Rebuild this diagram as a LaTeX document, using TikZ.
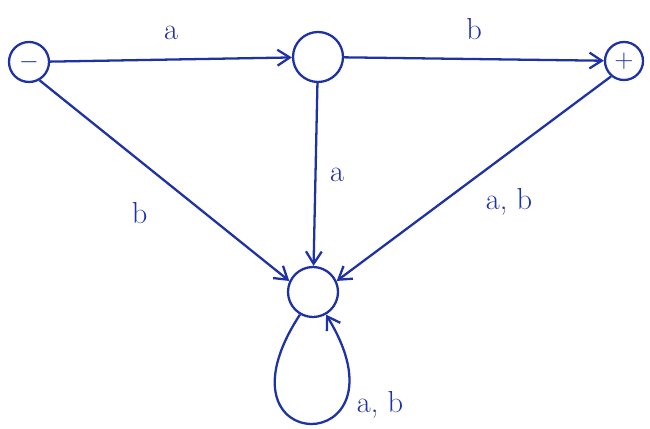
\documentclass[tikz,border=0pt]{standalone}
\usepackage{xcolor}
\usetikzlibrary{arrows.meta,positioning}
\definecolor{penblue}{RGB}{30,50,165}

\begin{document}
\begin{tikzpicture}[
  state/.style={circle, draw=penblue, line width=1.3pt, inner sep=0pt, minimum size=#1,
    font=\Large, text=penblue},
  arr/.style={-{Straight Barb[length=7pt,width=9pt]}, line width=1.3pt, penblue},
  lbl/.style={font=\LARGE, text=penblue}
]
\useasboundingbox (0,0) rectangle (13,-8.58);
\node[state=0.8cm]  (start) at (0.58,-1.24) {$-$};
\node[state=1.0cm]  (mid)   at (6.36,-1.14) {};
\node[state=0.76cm] (final) at (12.48,-1.22) {$+$};
\node[state=1.0cm]  (sink)  at (6.26,-5.84) {};

\draw[arr] (start) -- node[lbl, above=0.25cm] (la) {a} (mid);
\draw[arr] (mid) -- node[lbl, above=0.25cm] (lb) {b} (final);
\draw[arr] (start.-60) -- node[lbl, below left=0.3cm and 0.2cm] (lc) {b} (sink.155);
\draw[arr] (mid) -- node[lbl, right=0.15cm] (ld) {a} (sink);
\draw[arr] (final.230) -- node[lbl, below right=0.05cm and 0.1cm] (le) {a, b} (sink.25);
\draw[arr] (sink.240) .. controls (4.1,-9.2) and (8.3,-9.2) .. (sink.300);
\node[lbl] (lf) at (7.6,-8.1) {a, b};
\end{tikzpicture}
\end{document}
